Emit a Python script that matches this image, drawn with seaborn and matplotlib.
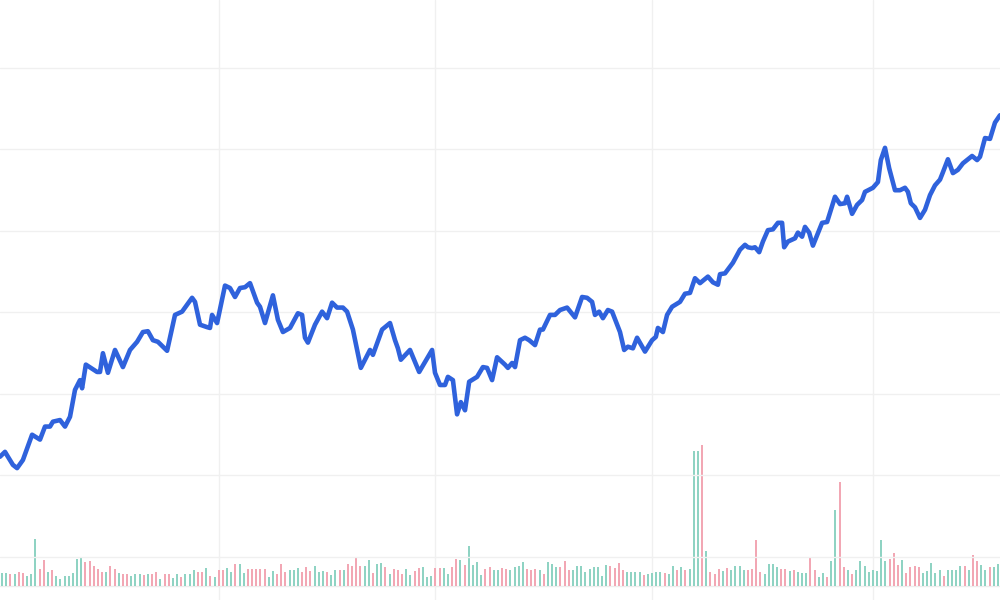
import numpy as np
import pandas as pd
import seaborn as sns
import matplotlib.pyplot as plt

# daily volume (x100k shares), one bar per trading day
volume = [13, 13, 12, 12, 14, 13, 10, 12, 47, 17,
          26, 14, 16, 10, 7, 10, 10, 13, 27, 28,
          24, 25, 20, 17, 14, 14, 20, 17, 13, 12,
          12, 10, 12, 12, 11, 12, 12, 14, 7, 12,
          12, 8, 12, 9, 12, 12, 16, 14, 14, 18,
          10, 9, 16, 16, 18, 14, 22, 22, 13, 17,
          17, 17, 17, 17, 9, 15, 12, 22, 14, 16,
          16, 18, 14, 19, 15, 20, 14, 15, 14, 11,
          16, 16,
          16, 22, 20, 28, 20, 20, 26, 13, 22, 23,
          19, 12, 17, 16, 12, 17, 11, 15, 18, 19,
          9, 10, 18, 18, 18, 12, 19, 27, 26, 21,
          40, 21, 24, 11, 17, 19, 16, 16, 18, 17,
          16, 19, 20, 24, 17, 16, 17, 16, 12, 24,
          22, 19, 19, 25, 16, 16, 20, 20, 14, 17,
          19, 19, 10, 21, 20, 18, 23, 16, 14, 14,
          14, 14, 11, 12, 13, 14, 14, 13,
          12, 20, 16, 19, 16, 17, 135, 135, 141, 35,
          14, 12, 17, 15, 18, 16, 20, 20, 16, 16,
          17, 46, 14, 12, 22, 22, 19, 17, 17, 15,
          16, 14, 13, 13, 29, 16, 9, 13, 9, 25,
          76, 104, 19, 16, 12, 16, 25, 20, 14, 16,
          15, 46, 25, 27, 33, 21, 26, 13, 19, 20,
          19, 13, 15, 23, 13, 16, 10, 16, 16, 16,
          20, 20, 16, 31, 25, 21, 16, 19, 19, 22]

# u = close up (green), d = close down (red)
direction = list(
    "uududduuud" "duduuuuuuu" "ddddduddud" "duuududdud" "duuduuuddu"
    "dudduuduud" "dddduudddu" "uuddduuudu" "ud"
    "udddduuduu" "duddduuddu" "uudduuddud" "uuuudduudd" "uuuudddudu"
    "uuddduuuuu" "uuuudddduu" "uuduuuud"
    "uududuuudu" "ddduduuuud" "ddduuuuddu" "duuudduudu" "udduduuuuu"
    "uuuddduddd" "duuuuuduuu" "ududduuduu"
)

# closing price trace (day index, price)
price_day = [-0.5, 0.7, 1.4, 2.6, 3.6, 5.0, 7.2, 9.1, 10.3, 11.5,
             12.2, 13.9, 15.1, 16.3, 17.5, 18.7, 19.2, 20.1, 22.8, 23.5,
             24.2, 25.4, 27.1, 29.0, 30.7, 32.4, 33.8, 35.0, 36.2, 37.4,
             39.6, 41.5, 43.2, 45.6, 46.3, 47.5, 49.2, 49.9, 50.4, 51.6,
             53.5, 54.7, 55.9, 57.1, 58.3, 59.5, 61.2, 61.9, 63.1, 65.0,
             66.2, 67.4, 69.1, 71.0, 72.0, 72.7, 73.4, 75.1, 76.8, 78.0,
             79.2, 80.4, 81.8, 82.8, 84.2, 86.1, 88.3, 89.0, 91.2, 93.1,
             94.3, 95.0, 95.7, 97.9, 100.1, 103.2, 103.9, 105.1, 106.3, 107.0,
             108.2, 109.2, 110.1, 111.1, 112.1, 114.0, 115.4, 116.4, 117.6, 118.8,
             120.7, 121.4, 122.4, 123.1, 124.3, 125.5, 126.5, 127.9, 129.1, 129.8,
             131.5, 132.7, 133.9, 135.6, 137.5, 139.2, 140.4, 141.6, 142.3, 143.3,
             144.2, 145.4, 146.4, 148.3, 149.3, 150.2, 151.4, 152.4, 154.3, 156.0,
             156.9, 157.4, 158.6, 159.6, 160.8, 162.7, 163.9, 165.1, 166.3, 167.5,
             169.4, 170.6, 171.8, 172.3, 173.5, 175.4, 177.1, 178.3, 179.0, 180.0,
             180.7, 181.7, 182.6, 183.8, 185.0, 186.2, 187.2, 187.7, 188.6, 190.3,
             191.0, 192.0, 192.7, 193.7, 194.6, 196.8, 198.0, 199.9, 201.1, 202.3,
             202.8, 204.0, 205.2, 206.4, 207.1, 209.0, 210.2, 210.9, 211.9, 212.9,
             214.3, 215.5, 216.7, 217.4, 218.1, 219.1, 220.3, 221.5, 222.7, 223.9,
             225.1, 225.8, 227.0, 228.2, 229.4, 230.6, 232.8, 234.0, 234.7, 235.9,
             237.1, 238.3, 239.5]
price = [112.3, 112.9, 112.3, 111.3, 110.9, 111.9, 115.0, 114.4, 116.0, 116.0,
         116.6, 116.8, 116.0, 117.2, 120.5, 121.7, 120.7, 123.6, 122.7, 122.7,
         125.0, 122.6, 125.4, 123.3, 125.4, 126.4, 127.6, 127.7, 126.6, 126.4,
         125.3, 129.7, 130.1, 131.8, 131.3, 128.5, 128.2, 128.1, 129.7, 128.7,
         133.3, 133.0, 131.9, 133.0, 133.1, 133.6, 131.2, 130.7, 128.7, 132.1,
         129.1, 127.6, 128.1, 129.9, 129.7, 126.9, 126.3, 128.5, 130.1, 129.3,
         131.2, 130.6, 130.6, 130.1, 127.9, 123.2, 125.4, 124.8, 127.9, 128.7,
         126.6, 125.6, 124.2, 125.4, 122.7, 125.4, 122.6, 121.1, 121.1, 122.1,
         121.7, 117.5, 119.0, 118.0, 121.5, 122.1, 123.3, 123.2, 121.7, 124.5,
         123.6, 123.2, 123.8, 123.3, 126.6, 126.9, 126.6, 126.0, 127.9, 127.9,
         129.7, 129.7, 130.3, 130.6, 129.4, 131.9, 131.8, 131.3, 129.7, 130.1,
         129.3, 130.3, 130.1, 127.6, 125.4, 125.8, 125.6, 126.9, 125.2, 126.6,
         127.0, 128.1, 127.6, 129.7, 130.7, 131.3, 132.3, 132.4, 134.2, 133.6,
         134.4, 133.7, 133.4, 134.7, 134.8, 136.1, 137.7, 138.3, 138.0, 137.9,
         138.0, 137.4, 138.7, 140.1, 140.2, 141.0, 141.0, 138.0, 138.7, 139.1,
         139.8, 139.3, 140.5, 139.8, 138.2, 141.0, 141.1, 144.2, 143.3, 143.4,
         144.2, 142.1, 143.2, 143.8, 144.8, 145.3, 146.0, 148.7, 150.2, 147.7,
         145.0, 145.0, 145.3, 144.8, 143.4, 142.9, 141.6, 142.6, 144.4, 145.6,
         146.3, 147.2, 148.8, 147.1, 147.5, 148.3, 149.2, 148.7, 149.1, 151.4,
         151.3, 153.3, 154.2]

price_grid = [100, 110, 120, 130, 140, 150, 160]
day_grid = [52, 104, 156, 209]

n_days = len(volume)
bars = pd.DataFrame({"day": np.arange(n_days), "volume": volume, "dir": direction})
line = pd.DataFrame({"day": price_day, "price": price})

sns.set_theme(style="white")
fig = plt.figure(figsize=(10, 6), dpi=100)
ax_vol = fig.add_axes([0, 0, 1, 1])

# volume bars at the bottom (categorical positions 0..n-1)
sns.barplot(data=bars, x="day", y="volume", hue="dir",
            palette={"u": "#8fd3c3", "d": "#f2a7b4"}, hue_order=["u", "d"],
            dodge=False, width=0.5, saturation=1, linewidth=0,
            legend=False, ax=ax_vol)
ax_vol.set_ylim(-14, 586)
ax_vol.set_xlim(-0.5, n_days - 0.5)
ax_vol.axhline(0, color="#ededed", lw=1, zorder=0)
for d in day_grid:
    ax_vol.axvline(d, color="#f0f0f0", lw=1, zorder=0)

# price line on top
ax_p = ax_vol.twinx()
ax_p.set_position([0, 0, 1, 1])
for p in price_grid:
    ax_p.axhline(p, color="#f0f0f0", lw=1, zorder=0)
sns.lineplot(data=line, x="day", y="price", color="#2f62dc", linewidth=3.3,
             sort=False, estimator=None, ax=ax_p)
ax_p.set_ylim(94.72, 168.34)
ax_p.set_xlim(-0.5, n_days - 0.5)

for a in (ax_vol, ax_p):
    a.set_axis_off()

fig.savefig("out.png", dpi=100)
